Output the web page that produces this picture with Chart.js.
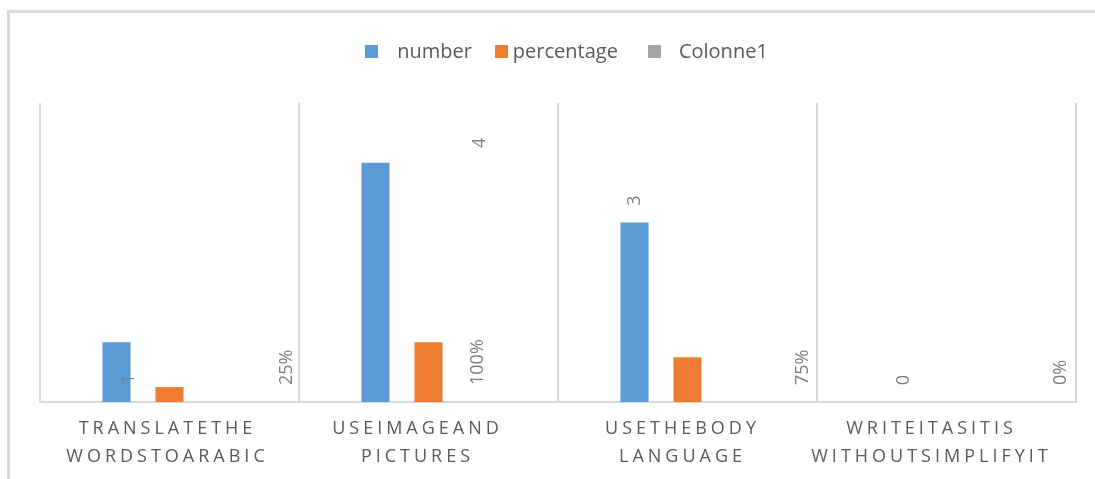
<!DOCTYPE html>
<html>
<head>
<meta charset="utf-8">
<script src="https://cdn.jsdelivr.net/npm/chart.js@4/dist/chart.umd.min.js"></script>
<style>
  html, body { margin: 0; padding: 0; background: #fff; }
  #wrap { position: relative; width: 1095px; height: 479px; overflow: hidden; }
  #frame { position: absolute; left: 7px; top: 10px; width: 1200px; height: 600px;
           border: 3px solid #dadada; box-sizing: border-box; }
  canvas { position: absolute; left: 0; top: 0; }
</style>
</head>
<body>
<div id="wrap">
  <div id="frame"></div>
  <canvas id="c" width="1095" height="479"></canvas>
</div>
<script>
// Categories (two-line labels) and series values
const categories = [
  ["TRANSLATETHE", "WORDSTOARABIC"],
  ["USEIMAGEAND", "PICTURES"],
  ["USETHEBODY", "LANGUAGE"],
  ["WRITEITASITIS", "WITHOUTSIMPLIFYIT"]
];
const seriesNames = ["number", "percentage", "Colonne1"];
const numberValues = [1, 4, 3, 0];
const percentageValues = [0.25, 1, 0.75, 0];
const colonne1Values = [0, 0, 0, 0];
const seriesColors = ["#5B9BD5", "#ED7D31", "#A5A5A5"];

// Where each data label sits relative to its anchor bar (pixels)
const numberLabelShift = [[12, 37], [104, -20], [0, -22], [10, -22]];
const percentLabelShift = [[64, -17], [-4, -17], [62, -17], [61, -17]];
// Horizontal nudge of each category caption
const categoryLabelShift = [-4, -13, -7, -17];
// Legend spacing: swatch-to-text gap and text-to-next-swatch gap per entry
const legendTextGap = [19, 5, 18];
const legendItemGap = [23, 30, 0];

const FONT = '"Open Sans", sans-serif';
const TEXT = '#595959';
const LABEL = '#7f7f7f';

const legendPlugin = {
  id: 'topLegend',
  afterDraw(chart) {
    const ctx = chart.ctx;
    ctx.save();
    ctx.font = '20px ' + FONT;
    ctx.textBaseline = 'middle';
    ctx.textAlign = 'left';
    const box = 13;
    const widths = seriesNames.map(n => ctx.measureText(n).width);
    const total = widths.reduce((a, w, i) => a + box + legendTextGap[i] + w + legendItemGap[i], 0);
    const cy = 51.5;
    let x = 566.5 - total / 2;
    seriesNames.forEach((name, i) => {
      ctx.fillStyle = seriesColors[i];
      ctx.fillRect(Math.round(x), cy - box / 2, box, box);
      ctx.fillStyle = TEXT;
      ctx.fillText(name, x + box + legendTextGap[i], cy + 1);
      x += box + legendTextGap[i] + widths[i] + legendItemGap[i];
    });
    ctx.restore();
  }
};

const labelPlugin = {
  id: 'valueAndCategoryLabels',
  afterDatasetsDraw(chart) {
    const ctx = chart.ctx;
    const xs = chart.scales.x;
    const bottom = chart.chartArea.bottom;

    // category labels, letter-spaced, two lines each
    ctx.save();
    ctx.font = '18px ' + FONT;
    ctx.fillStyle = TEXT;
    ctx.textAlign = 'center';
    ctx.textBaseline = 'middle';
    const spacing = 4;
    ctx.letterSpacing = spacing + 'px';
    categories.forEach((lines, i) => {
      const cx = xs.getPixelForValue(i) + spacing / 2 + categoryLabelShift[i];
      lines.forEach((t, j) => ctx.fillText(t, cx, bottom + 26.5 + j * 28));
    });
    ctx.restore();

    // rotated data labels
    const numMeta = chart.getDatasetMeta(0);
    const anchorMeta = chart.getDatasetMeta(2);
    ctx.save();
    ctx.font = '18px ' + FONT;
    ctx.fillStyle = LABEL;
    ctx.textBaseline = 'middle';
    numberValues.forEach((v, i) => {
      const bar = numMeta.data[i];
      const [dx, dy] = numberLabelShift[i];
      ctx.save();
      ctx.translate(bar.x + dx, bar.y + dy);
      ctx.rotate(-Math.PI / 2);
      ctx.textAlign = 'center';
      ctx.fillText(String(v), 0, 0);
      ctx.restore();
    });
    percentageValues.forEach((v, i) => {
      const bar = anchorMeta.data[i];
      const [dx, dy] = percentLabelShift[i];
      ctx.save();
      ctx.translate(bar.x + dx, bar.y + dy);
      ctx.rotate(-Math.PI / 2);
      ctx.textAlign = 'left';
      ctx.fillText(Math.round(v * 100) + '%', 0, 0);
      ctx.restore();
    });
    ctx.restore();
  }
};

new Chart(document.getElementById('c'), {
  type: 'bar',
  data: {
    labels: categories,
    datasets: [
      { label: seriesNames[0], data: numberValues, backgroundColor: seriesColors[0] },
      { label: seriesNames[1], data: percentageValues, backgroundColor: seriesColors[1] },
      { label: seriesNames[2], data: colonne1Values, backgroundColor: seriesColors[2] }
    ]
  },
  options: {
    responsive: false,
    animation: false,
    devicePixelRatio: 1,
    datasets: { bar: { categoryPercentage: 0.614, barPercentage: 0.53, borderWidth: 0 } },
    layout: { padding: { left: 40, right: 19, top: 103, bottom: 77 } },
    plugins: { legend: { display: false }, tooltip: { enabled: false } },
    scales: {
      x: {
        grid: { offset: true, color: '#d9d9d9', lineWidth: 2, drawTicks: false },
        border: { color: '#d9d9d9', width: 2 },
        ticks: { display: false }
      },
      y: { display: false, min: 0, max: 5 }
    }
  },
  plugins: [legendPlugin, labelPlugin]
});
</script>
</body>
</html>
